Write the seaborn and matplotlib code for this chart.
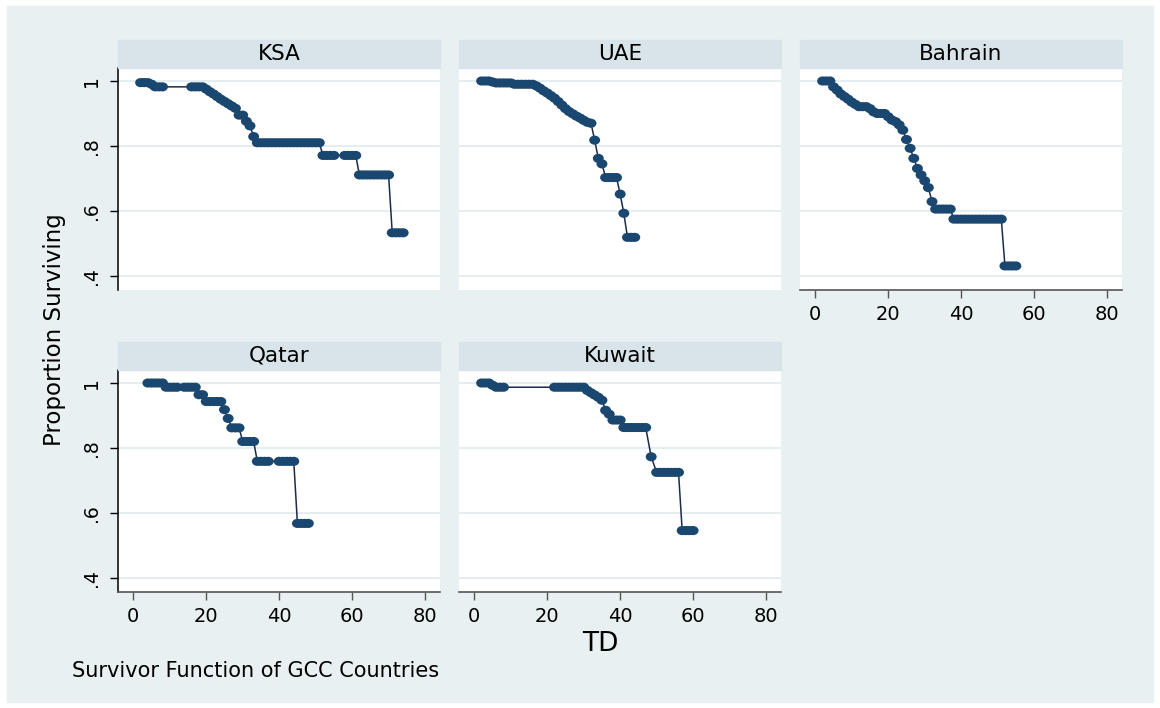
import pandas as pd
import matplotlib.pyplot as plt
from matplotlib.patches import Rectangle
from matplotlib.path import Path
from matplotlib.transforms import Affine2D
import seaborn as sns

# survivor estimates (TD = time, s = proportion surviving)
countries = ['KSA', 'UAE', 'Bahrain', 'Qatar', 'Kuwait']

ksa_td = [2, 3, 4, 5, 6, 7, 8,
          16, 17, 18, 19, 20, 21, 22, 23, 24, 25, 26, 27, 28, 29, 30, 31, 32, 33,
          34, 35, 36, 37, 38, 39, 40, 41, 42, 43, 44, 45, 46, 47, 48, 49, 50, 51,
          52, 53, 54, 55, 58, 59, 60, 61,
          62, 63, 64, 65, 66, 67, 68, 69, 70, 71, 72, 73, 74]
ksa_s = [0.995, 0.995, 0.995, 0.99, 0.982, 0.982, 0.982,
         0.982, 0.982, 0.982, 0.982, 0.975, 0.967, 0.96, 0.952, 0.944, 0.937, 0.93, 0.923, 0.916,
         0.895, 0.895, 0.876, 0.862, 0.829,
         0.81, 0.81, 0.81, 0.81, 0.81, 0.81, 0.81, 0.81, 0.81, 0.81, 0.81, 0.81, 0.81, 0.81,
         0.81, 0.81, 0.81, 0.81,
         0.771, 0.771, 0.771, 0.771, 0.771, 0.771, 0.771, 0.771,
         0.711, 0.711, 0.711, 0.711, 0.711, 0.711, 0.711, 0.711, 0.711,
         0.533, 0.533, 0.533, 0.533]

uae_td = [2, 3, 4, 5, 6, 7, 8, 9, 10, 11, 12, 13, 14, 15, 16, 17, 18, 19, 20, 21, 22, 23,
          24, 25, 26, 27, 28, 29, 30, 31, 32, 33, 34, 35, 36, 37, 38, 39, 40, 41, 42, 43, 44]
uae_s = [1.0, 1.0, 1.0, 0.997, 0.994, 0.994, 0.994, 0.994, 0.994, 0.99, 0.99, 0.99, 0.99, 0.99,
         0.99, 0.985, 0.978, 0.97, 0.963, 0.955, 0.947, 0.937, 0.926, 0.915, 0.906, 0.899,
         0.892, 0.886, 0.879, 0.873, 0.87, 0.818, 0.762, 0.745, 0.703, 0.703, 0.703, 0.703,
         0.652, 0.593, 0.519, 0.519, 0.519]

bahrain_td = [2, 3, 4, 5, 6, 7, 8, 9, 10, 11, 12, 13, 14, 15, 16, 17, 18, 19, 20, 21, 22,
              23, 24, 25, 26, 27, 28, 29, 30, 31, 32, 33, 34, 35, 36, 37, 38, 39, 40, 41,
              42, 43, 44, 45, 46, 47, 48, 49, 50, 51, 52, 53, 54, 55]
bahrain_s = [1.0, 1.0, 1.0, 0.982, 0.972, 0.96, 0.952, 0.944, 0.935, 0.928, 0.921, 0.921,
             0.921, 0.915, 0.905, 0.9, 0.9, 0.9, 0.89, 0.88, 0.875, 0.865, 0.849, 0.82,
             0.793, 0.762, 0.731, 0.711, 0.693, 0.672, 0.629, 0.606, 0.606, 0.606, 0.606,
             0.606, 0.575, 0.575, 0.575, 0.575, 0.575, 0.575, 0.575, 0.575, 0.575, 0.575,
             0.575, 0.575, 0.575, 0.575, 0.431, 0.431, 0.431, 0.431]

qatar_td = [4, 5, 6, 7, 8, 9, 10, 11, 12, 14, 15, 16, 17, 18, 19, 20, 21, 22, 23, 24, 25,
            26, 27, 28, 29, 30, 31, 32, 33, 34, 35, 36, 37, 40, 41, 42, 43, 44, 45, 46,
            47, 48]
qatar_s = [1.0, 1.0, 1.0, 1.0, 1.0, 0.987, 0.987, 0.987, 0.987, 0.987, 0.987, 0.987, 0.987,
           0.964, 0.964, 0.943, 0.943, 0.943, 0.943, 0.943, 0.918, 0.891, 0.862, 0.862,
           0.862, 0.82, 0.82, 0.82, 0.82, 0.759, 0.759, 0.759, 0.759, 0.759, 0.759, 0.759,
           0.759, 0.759, 0.568, 0.568, 0.568, 0.568]

kuwait_td = [2, 3, 4, 5, 6, 7, 8, 22, 23, 24, 25, 26, 27, 28, 29, 30, 31, 32, 33, 34, 35,
             36, 37, 38, 39, 40, 41, 42, 43, 44, 45, 46, 47, 48.5, 50, 51, 52, 53, 54, 55,
             56, 57, 58, 59, 60]
kuwait_s = [1.0, 1.0, 1.0, 0.993, 0.987, 0.987, 0.987, 0.987, 0.987, 0.987, 0.987, 0.987,
            0.987, 0.987, 0.987, 0.987, 0.977, 0.97, 0.963, 0.956, 0.947, 0.916, 0.904,
            0.886, 0.886, 0.886, 0.863, 0.863, 0.863, 0.863, 0.863, 0.863, 0.863, 0.773,
            0.725, 0.725, 0.725, 0.725, 0.725, 0.725, 0.725, 0.546, 0.546, 0.546, 0.546]

y_ticks = [0.4, 0.6, 0.8, 1.0]
y_labels = ['.4', '.6', '.8', '1']
x_ticks = [0, 20, 40, 60, 80]

frames = []
for name, td, s in zip(countries,
                       [ksa_td, uae_td, bahrain_td, qatar_td, kuwait_td],
                       [ksa_s, uae_s, bahrain_s, qatar_s, kuwait_s]):
    frames.append(pd.DataFrame({'country': name, 'TD': td, 'S': s}))
df = pd.concat(frames, ignore_index=True)

sns.set_theme(style='white')
plt.rcParams['font.family'] = ['DejaVu Sans']
plt.rcParams['text.color'] = 'black'
plt.rcParams['xtick.labelcolor'] = 'black'
plt.rcParams['ytick.labelcolor'] = 'black'

W, H = 1160, 708
bg = '#e8f0f2'
strip = '#d8e4ea'
navy = '#1a476f'
line = '#1c2b4b'

# slightly wide dot, like the stretched original
dot = Path.unit_circle().transformed(Affine2D().scale(1.2, 1.0))

fig = plt.figure(figsize=(W / 100, H / 100), dpi=100, facecolor='white')
fig.patches.append(Rectangle((7 / W, 6 / H), (W - 14) / W, (H - 12) / H,
                             transform=fig.transFigure, color=bg, zorder=-10))

col_x = [118, 459, 800]
row_top = [68, 370]
pw, ph = 322, 222
slots = [(0, 0), (0, 1), (0, 2), (1, 0), (1, 1)]
with_xaxis = ['Bahrain', 'Qatar', 'Kuwait']

for name, (r, c) in zip(countries, slots):
    x0, top = col_x[c], row_top[r]
    ax = fig.add_axes([x0 / W, 1 - (top + ph) / H, pw / W, ph / H])
    ax.set_facecolor('white')
    sub = df[df['country'] == name]
    sns.lineplot(data=sub, x='TD', y='S', ax=ax, color=line, lw=1.1,
                 estimator=None, sort=True, zorder=2)
    sns.scatterplot(data=sub, x='TD', y='S', ax=ax, color=navy, s=62,
                    marker=dot, edgecolor='none', zorder=3)
    ax.set_xlim(-4.2, 84.1)
    ax.set_ylim(0.357, 1.04)
    ax.set_yticks(y_ticks)
    ax.set_xticks(x_ticks)
    ax.grid(axis='y', color='#e4edf0', lw=1.4)
    ax.grid(axis='x', visible=False)
    ax.set_axisbelow(True)
    ax.set_xlabel('')
    ax.set_ylabel('')
    for sp in ax.spines.values():
        sp.set_visible(False)

    if c == 0:
        ax.spines['left'].set_visible(True)
        ax.spines['left'].set_color('black')
        ax.spines['left'].set_linewidth(1.1)
        ax.set_yticklabels(y_labels, rotation=90, va='center')
        ax.tick_params(axis='y', length=6, width=1, color='black', pad=6,
                       labelsize=13.5, left=True)
    else:
        ax.tick_params(axis='y', length=0, labelleft=False)

    if name in with_xaxis:
        ax.spines['bottom'].set_visible(True)
        ax.spines['bottom'].set_color('#555555')
        ax.spines['bottom'].set_linewidth(1.2)
        ax.set_xticklabels([str(v) for v in x_ticks])
        ax.tick_params(axis='x', length=6, width=1, color='#555555', pad=5,
                       labelsize=14, bottom=True)
    else:
        ax.tick_params(axis='x', length=0, labelbottom=False)

    # title strip
    st = top - 28.5
    fig.patches.append(Rectangle((x0 / W, 1 - top / H), pw / W, 28.5 / H,
                                 transform=fig.transFigure, color=strip, zorder=1))
    fig.text((x0 + pw / 2) / W, 1 - (st + 14.5) / H, name, ha='center', va='center',
             fontsize=15.5, color='black')

fig.text(600 / W, 1 - 644 / H, 'TD', ha='center', va='center', fontsize=19)
fig.text(54 / W, 1 - 330 / H, 'Proportion Surviving', rotation=90, ha='center',
         va='center', fontsize=16.5)
fig.text(72 / W, 1 - 671 / H, 'Survivor Function of GCC Countries', ha='left',
         va='center', fontsize=15)

fig.savefig('out.png', dpi=100)
